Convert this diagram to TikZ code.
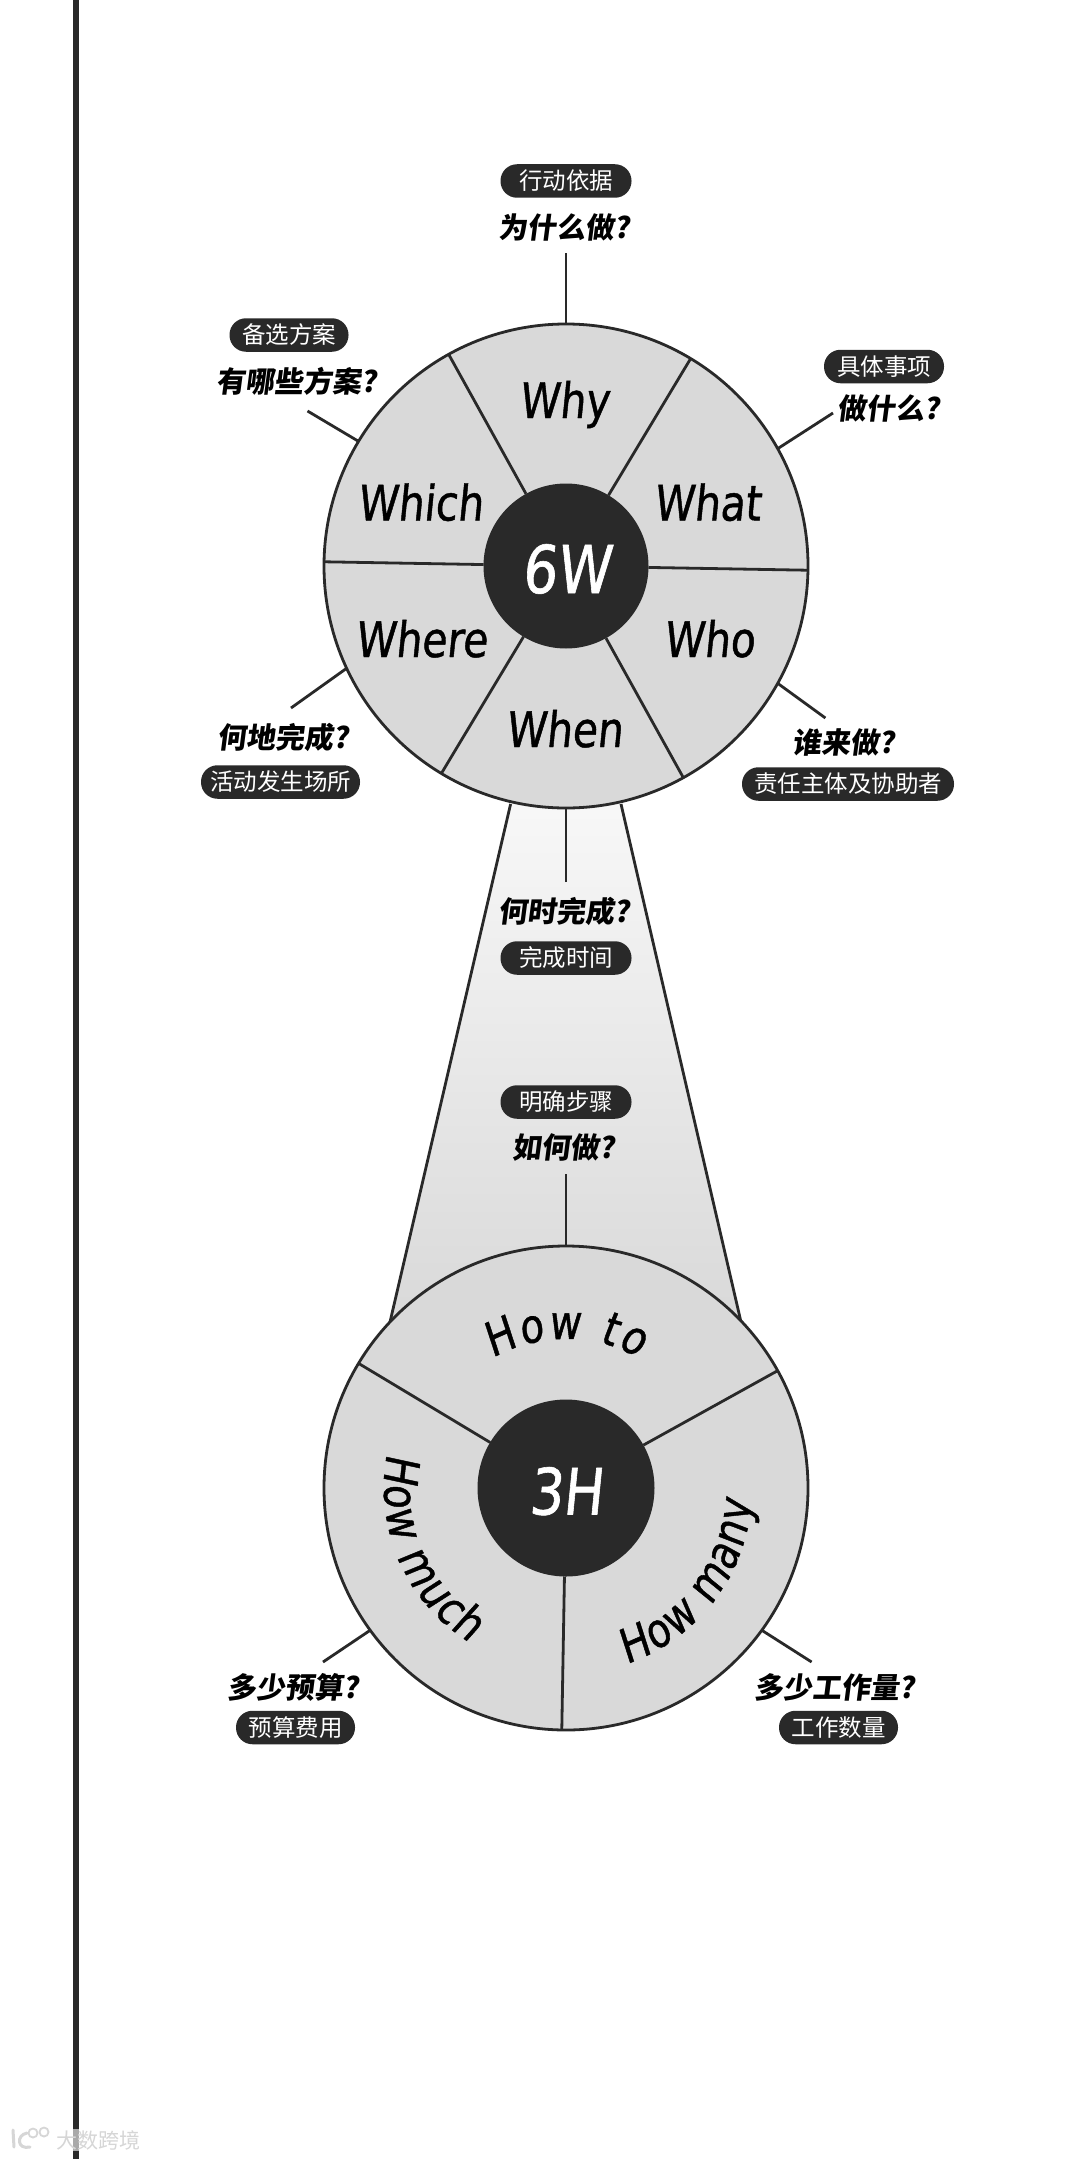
\documentclass[tikz,border=0pt]{standalone}
\usepackage{fontspec}
\usetikzlibrary{decorations.text}
\newfontfamily\qfont[FakeSlant=0.13]{Noto Sans CJK SC}
\newfontfamily\pfont{Noto Sans CJK SC}
\newfontfamily\lfont[FakeSlant=0.1,FakeStretch=0.83,FakeBold=0.9]{DejaVu Sans}
\definecolor{ink}{HTML}{292929}
\definecolor{sector}{HTML}{D9D9D9}
\definecolor{wmgrey}{HTML}{D6D6D6}
\tikzset{
  x=1pt,y=1pt,
  edge/.style={draw=ink,line width=2.8pt},
  ring/.style={circle,draw=ink,fill=sector,line width=2.8pt,inner sep=0pt,outer sep=0pt,minimum size=484pt},
  hub/.style={circle,fill=ink,inner sep=0pt,outer sep=0pt},
  pill/.style={rectangle,fill=ink,rounded corners=16.5pt,text=white,inner sep=0pt,minimum height=33.5pt,font=\pfont\fontsize{23.5}{25}\selectfont},
  qtext/.style={text=black,inner sep=0pt,font=\qfont\bfseries\fontsize{29}{30}\selectfont},
  wlabel/.style={text=black,inner sep=0pt,anchor=base,font=\lfont\fontsize{49}{49}\selectfont},
  curved/.style={decorate,decoration={text along path,text align={fit to path},text={|\lfont\fontsize{47}{47}\selectfont|#1}}},
}
\begin{document}
\begin{tikzpicture}
\useasboundingbox (0,0) rectangle (1080,-2159);
\fill[white] (0,0) rectangle (1080,-2159);
% vertical bar
\coordinate (bartop) at (76,0);
\coordinate (barbot) at (76,-2159);
\draw[ink,line width=6.5pt] (bartop) -- (barbot);
% funnel
\coordinate (fa) at (510.6,-804);
\coordinate (fb) at (390,-1322);
\coordinate (fc) at (741,-1322);
\coordinate (fd) at (621,-804);
\shade[top color=white!97!black,bottom color=sector] (fa) -- (fb) -- (fc) -- (fd) -- cycle;
\draw[edge] (fa) -- (fb);
\draw[edge] (fd) -- (fc);
% 6W wheel
\node[ring] (ringsix) at (566,-566) {};
\node[hub,minimum size=165pt] (hubsix) at (566,-566) {};
\node[text=white,inner sep=0pt,anchor=base,font=\lfont\fontsize{66}{66}\selectfont] (sixw) at (566,-593) {6W};
\foreach \a in {119,59,-1,-61,-121,179}{\draw[edge] (ringsix.\a) -- (hubsix.\a);}
\node[wlabel] (why) at (564,-418) {Why};
\node[wlabel] (which) at (420,-520.5) {Which};
\node[wlabel] (what) at (707,-520.5) {What};
\node[wlabel] (where) at (421,-657) {Where};
\node[wlabel] (who) at (709,-657) {Who};
\node[wlabel] (when) at (564,-747) {When};
% 3H wheel
\node[ring] (ringthree) at (566,-1488) {};
\node[hub,minimum size=177pt] (hubthree) at (566,-1488) {};
\node[text=white,inner sep=0pt,anchor=base,font=\lfont\fontsize{64}{64}\selectfont] (threeh) at (565.5,-1514.5) {3H};
\foreach \a in {149,29,269}{\draw[edge] (ringthree.\a) -- (hubthree.\a);}
\path[curved=How to] (566,-1488) ++(119.5:149pt) arc (119.5:61:149pt);
\path[curved=How many] (566,-1488) ++(-71:186pt) arc (-71:-4:186pt);
\path[curved=How much] (566,-1488) ++(169:182pt) arc (169:238:182pt);
% 6W callouts
\node[pill,minimum width=131pt] (pa) at (566,-181) {行动依据};
\node[qtext] (qa) at (564,-227) {为什么做?};
\coordinate (ca) at (566,-253.5);
\draw[edge] (ca) -- (ringsix.90);
\node[pill,minimum width=119pt] (pb) at (289,-335) {备选方案};
\node[qtext] (qb) at (297,-381) {有哪些方案?};
\coordinate (cb) at (307.5,-411);
\draw[edge] (cb) -- (ringsix.149.3);
\node[pill,minimum width=120pt] (pc) at (884,-366.5) {具体事项};
\node[qtext] (qc) at (889,-408) {做什么?};
\coordinate (cc) at (833,-413);
\draw[edge] (cc) -- (ringsix.29.1);
\node[qtext] (qd) at (283,-737) {何地完成?};
\node[pill,minimum width=159pt] (pd) at (280.5,-782) {活动发生场所};
\coordinate (cd) at (291,-708);
\draw[edge] (cd) -- (ringsix.205.9);
\node[qtext] (qe) at (844,-742) {谁来做?};
\node[pill,minimum width=212pt] (pe) at (848,-784) {责任主体及协助者};
\coordinate (ce) at (825.4,-718);
\draw[edge] (ce) -- (ringsix.-29.9);
\node[qtext] (qf) at (564,-911.5) {何时完成?};
\node[pill,minimum width=131pt] (pf) at (566,-958) {完成时间};
\coordinate (cf) at (566,-882);
\draw[edge] (cf) -- (ringsix.-90);
% 3H callouts
\node[pill,minimum width=131pt] (pg) at (566,-1102) {明确步骤};
\node[qtext] (qg) at (564,-1147.5) {如何做?};
\coordinate (cg) at (566,-1174);
\draw[edge] (cg) -- (ringthree.90);
\node[qtext] (qh) at (293,-1687) {多少预算?};
\node[pill,minimum width=119pt] (ph) at (295.5,-1727.5) {预算费用};
\coordinate (ch) at (323,-1662);
\draw[edge] (ch) -- (ringthree.216.3);
\node[qtext] (qi) at (835,-1687) {多少工作量?};
\node[pill,minimum width=119pt] (pi) at (838.5,-1727.5) {工作数量};
\coordinate (ci) at (811.6,-1662);
\draw[edge] (ci) -- (ringthree.-36);
% watermark
\node[fill=white,fill opacity=0.6,text opacity=1,text=wmgrey,inner sep=1pt,font=\pfont\fontsize{21}{22}\selectfont] (wm) at (98.5,-2140) {大数跨境};
\coordinate (wa) at (13,-2130);
\coordinate (wb) at (14,-2147);
\coordinate (wc) at (33,-2133);
\coordinate (wd) at (44,-2132);
\draw[wmgrey,line width=3pt,line cap=round] (wa) -- (wb);
\draw[wmgrey,line width=3pt,line cap=round] (27,-2133) .. controls (16,-2135) and (17,-2150) .. (30,-2147);
\draw[wmgrey,line width=1.8pt] (wc) circle (4.5pt);
\draw[wmgrey,line width=1.8pt] (wd) circle (4.5pt);
\end{tikzpicture}
\end{document}
